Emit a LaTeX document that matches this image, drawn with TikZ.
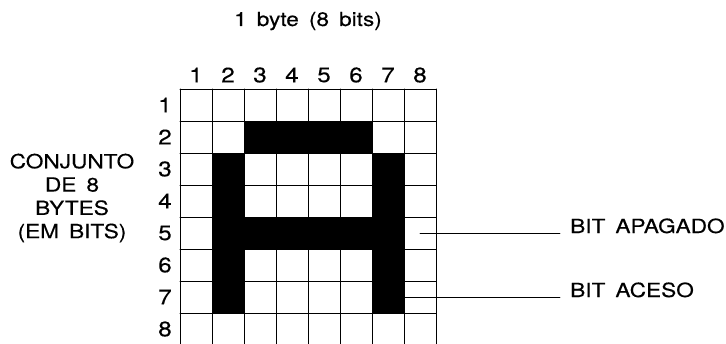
\documentclass[tikz,border=0pt]{standalone}
\usepackage{fontspec}
\setmainfont{TeX Gyre Heros}[FakeStretch=1.16,FakeBold=0.25,WordSpace=1.6]
\begin{document}
\begin{tikzpicture}[x=1pt,y=-1pt,line join=round,line cap=round,
	num/.style={font=\fontsize{21}{22}\selectfont,inner sep=0pt},
	lbl/.style={font=\fontsize{19.5}{23.3}\selectfont,inner sep=0pt}]
		\useasboundingbox (0,0) rectangle (726,343);
		% bits acesos (letra A)
		\foreach \r in {3,...,7} {
			\fill (212,57+32*\r) rectangle +(32,32);
			\fill (372,57+32*\r) rectangle +(32,32);
		}
		\foreach \c in {3,...,6} {
			\fill (148+32*\c,121) rectangle +(32,32);
			\fill (148+32*\c,217) rectangle +(32,32);
		}
		% grade 8x8
		\foreach \i in {0,...,8} {
			\draw[line width=1pt] (180+32*\i,89)--(180+32*\i,345);
			\draw[line width=1pt] (180,89+32*\i)--(436,89+32*\i);
		}
		\foreach \i in {1,...,8} {
			\node[num] (col\i) at (164+32*\i,75) {\i};
			\node[num] (row\i) at (165,73+32*\i) {\i};
		}
		\node[lbl] (byte) at (308,21) {1 byte (8 bits)};
		\node[lbl,align=center] (conj) at (72,198) {CONJUNTO\\DE 8\\BYTES\\(EM BITS)};
		\coordinate (off) at (420,233);
		\coordinate (on) at (388,297);
		\node[lbl,anchor=base west] (apagado) at (570,233) {BIT APAGADO};
		\node[lbl,anchor=base west] (aceso) at (570,297) {BIT ACESO};
		\draw[line width=0.8pt,shorten >=10pt] (off)--(apagado.base west);
		\draw[line width=0.8pt,shorten >=10pt] (on)--(aceso.base west);
	\end{tikzpicture}
\end{document}
